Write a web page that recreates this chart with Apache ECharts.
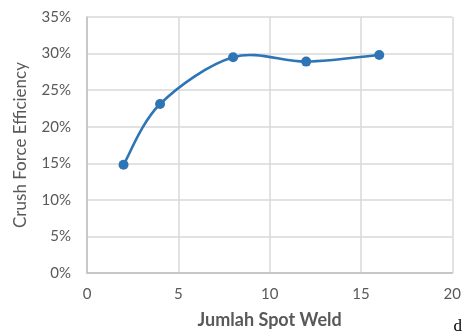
<!DOCTYPE html>
<html>
<head>
<meta charset="utf-8">
<script src="https://cdn.jsdelivr.net/npm/echarts@6/dist/echarts.min.js"></script>
<style>
  html, body { margin: 0; padding: 0; background: #fff; }
  #chart { width: 464px; height: 335px; }
</style>
</head>
<body>
<div id="chart"></div>
<script>
// Spot weld count vs. crush force efficiency (%)
const spotWelds = [2, 4, 8, 12, 16];
const efficiency = [14.8, 23.1, 29.5, 28.9, 29.8];
const xTicks = [0, 5, 10, 15, 20];
const yTicks = [0, 5, 10, 15, 20, 25, 30, 35];

const chart = echarts.init(document.getElementById('chart'));
const font = 'Lato, "Open Sans", sans-serif';
const blue = '#2E75B6';
const points = spotWelds.map((x, i) => [x, efficiency[i]]);

// Cardinal-spline segment from point i to i+1 (tangents from neighbours, 1/6 arm)
function renderSegment(params, api) {
  const i = params.dataIndex;
  if (i >= points.length - 1) return null;
  const c = k => api.coord(points[Math.max(0, Math.min(points.length - 1, k))]);
  const p0 = c(i - 1), p1 = c(i), p2 = c(i + 1), p3 = c(i + 2);
  return {
    type: 'bezierCurve',
    shape: {
      x1: p1[0], y1: p1[1],
      x2: p2[0], y2: p2[1],
      cpx1: p1[0] + (p2[0] - p0[0]) / 6, cpy1: p1[1] + (p2[1] - p0[1]) / 6,
      cpx2: p2[0] - (p3[0] - p1[0]) / 6, cpy2: p2[1] - (p3[1] - p1[1]) / 6
    },
    style: { stroke: blue, lineWidth: 2.6, fill: null, lineCap: 'round' }
  };
}

chart.setOption({
  animation: false,
  grid: { left: 87, right: 9, top: 17, bottom: 62 },
  xAxis: {
    type: 'value',
    min: xTicks[0], max: xTicks[xTicks.length - 1], interval: 5,
    name: 'Jumlah Spot Weld',
    nameLocation: 'middle',
    nameGap: 38,
    nameTextStyle: { fontFamily: font, fontSize: 18, fontWeight: 'bold', color: '#595959' },
    axisLine: { show: true, lineStyle: { color: '#bfbfbf', width: 1.5 } },
    axisTick: { show: false },
    axisLabel: { fontFamily: font, fontSize: 15, color: '#595959', margin: 14 },
    splitLine: { show: true, lineStyle: { color: '#d9d9d9', width: 1.5 } }
  },
  yAxis: {
    type: 'value',
    min: yTicks[0], max: yTicks[yTicks.length - 1], interval: 5,
    name: 'Crush Force Efficiency',
    nameLocation: 'middle',
    nameGap: 58,
    nameTextStyle: { fontFamily: font, fontSize: 17, fontWeight: 'normal', color: '#595959' },
    axisLine: { show: true, lineStyle: { color: '#bfbfbf', width: 1.5 } },
    axisTick: { show: false },
    axisLabel: { fontFamily: font, fontSize: 15, color: '#595959', margin: 16, formatter: v => v + '%' },
    splitLine: { show: true, lineStyle: { color: '#d9d9d9', width: 1.5 } }
  },
  graphic: [{
    type: 'text', right: 2, bottom: 0,
    style: { text: 'd', font: '17px "Liberation Serif", serif', fill: '#000' }
  }],
  series: [{
    type: 'custom',
    renderItem: renderSegment,
    data: points,
    z: 2
  }, {
    type: 'scatter',
    data: points,
    symbol: 'circle',
    symbolSize: 10,
    itemStyle: { color: blue, opacity: 1 },
    z: 3
  }]
});
</script>
</body>
</html>
